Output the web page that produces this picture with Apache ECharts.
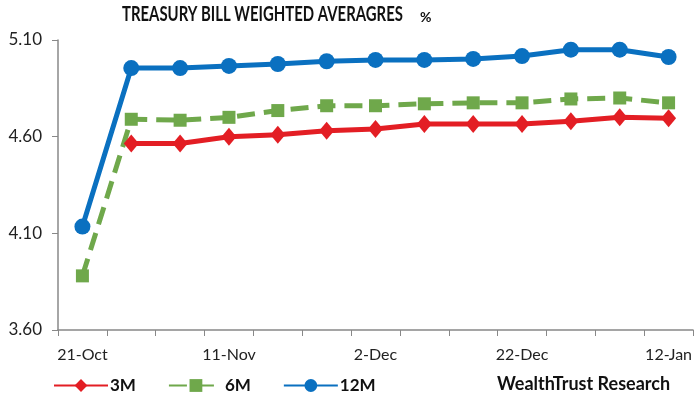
<!DOCTYPE html>
<html><head><meta charset="utf-8">
<script src="https://cdn.jsdelivr.net/npm/echarts@6/dist/echarts.min.js"></script>
<style>html,body{margin:0;padding:0;background:#fff}#c{width:700px;height:400px}</style>
</head><body><div id="c"></div>
<script>
var categories = ['21-Oct','28-Oct','4-Nov','11-Nov','18-Nov','25-Nov','2-Dec','9-Dec','16-Dec','22-Dec','29-Dec','5-Jan','12-Jan'];
var m3 = [null, 4.565, 4.565, 4.60, 4.61, 4.63, 4.64, 4.665, 4.665, 4.665, 4.68, 4.70, 4.695];
var m6 = [3.88, 4.69, 4.685, 4.70, 4.735, 4.76, 4.76, 4.77, 4.775, 4.775, 4.795, 4.80, 4.775];
var m12 = [4.135, 4.955, 4.955, 4.966, 4.976, 4.99, 4.997, 4.997, 5.002, 5.017, 5.05, 5.05, 5.012];
var yTicks = {min: 3.6, max: 5.1, interval: 0.5};
var titleText = 'TREASURY BILL WEIGHTED AVERAGRES';

var chart = echarts.init(document.getElementById('c'));
chart.setOption({
  animation: false,
  backgroundColor: '#fff',
  textStyle: {fontFamily: 'Lato'},
  graphic: [
    {type: 'text', x: 122, y: 5, scaleX: 0.745, style: {text: titleText, font: 'bold 20px Lato', fill: '#111'}},
    {type: 'text', x: 420, y: 10, style: {text: '%', font: 'bold 14px Lato', fill: '#111'}},
    {type: 'text', x: 497, y: 375, style: {text: 'WealthTrust Research', font: 'bold 18px Lato', fill: '#111'}}
  ],
  legend: {
    left: 48, top: 372,
    itemWidth: 54, itemHeight: 16, itemGap: 32,
    textStyle: {fontFamily: 'Lato', fontWeight: 'bold', fontSize: 17, color: '#111', padding: [0,0,0,-3]},
    data: ['3M','6M','12M']
  },
  grid: {left: 58, right: 7, top: 40, bottom: 70},
  xAxis: {
    type: 'category', data: categories, boundaryGap: true,
    axisLine: {lineStyle: {color: '#888', width: 1.5}},
    axisTick: {show: true, length: 6, lineStyle: {color: '#888'}, interval: 0},
    axisLabel: {interval: 2, color: '#222', fontSize: 16, margin: 17, fontFamily: 'Lato'}
  },
  yAxis: {
    type: 'value', min: yTicks.min, max: yTicks.max, interval: yTicks.interval,
    axisLine: {show: true, lineStyle: {color: '#888', width: 1.5}},
    axisTick: {show: true, length: 6, lineStyle: {color: '#888'}},
    splitLine: {show: false},
    axisLabel: {color: '#222', fontSize: 17, margin: 16, fontFamily: 'Lato', formatter: function(v){return v.toFixed(2);}}
  },
  series: [
    {name: '3M', type: 'line', data: m3, symbol: 'diamond', symbolSize: [15, 18],
     itemStyle: {color: '#E31E24'}, lineStyle: {color: '#E31E24', width: 5}, connectNulls: false},
    {name: '6M', type: 'line', data: m6, symbol: 'rect', symbolSize: 13,
     itemStyle: {color: '#6FA84B'}, lineStyle: {color: '#6FA84B', width: 5, type: [18, 9]}},
    {name: '12M', type: 'line', data: m12, symbol: 'circle', symbolSize: 16,
     itemStyle: {color: '#0A70C0'}, lineStyle: {color: '#0A70C0', width: 5}}
  ]
});
</script></body></html>
